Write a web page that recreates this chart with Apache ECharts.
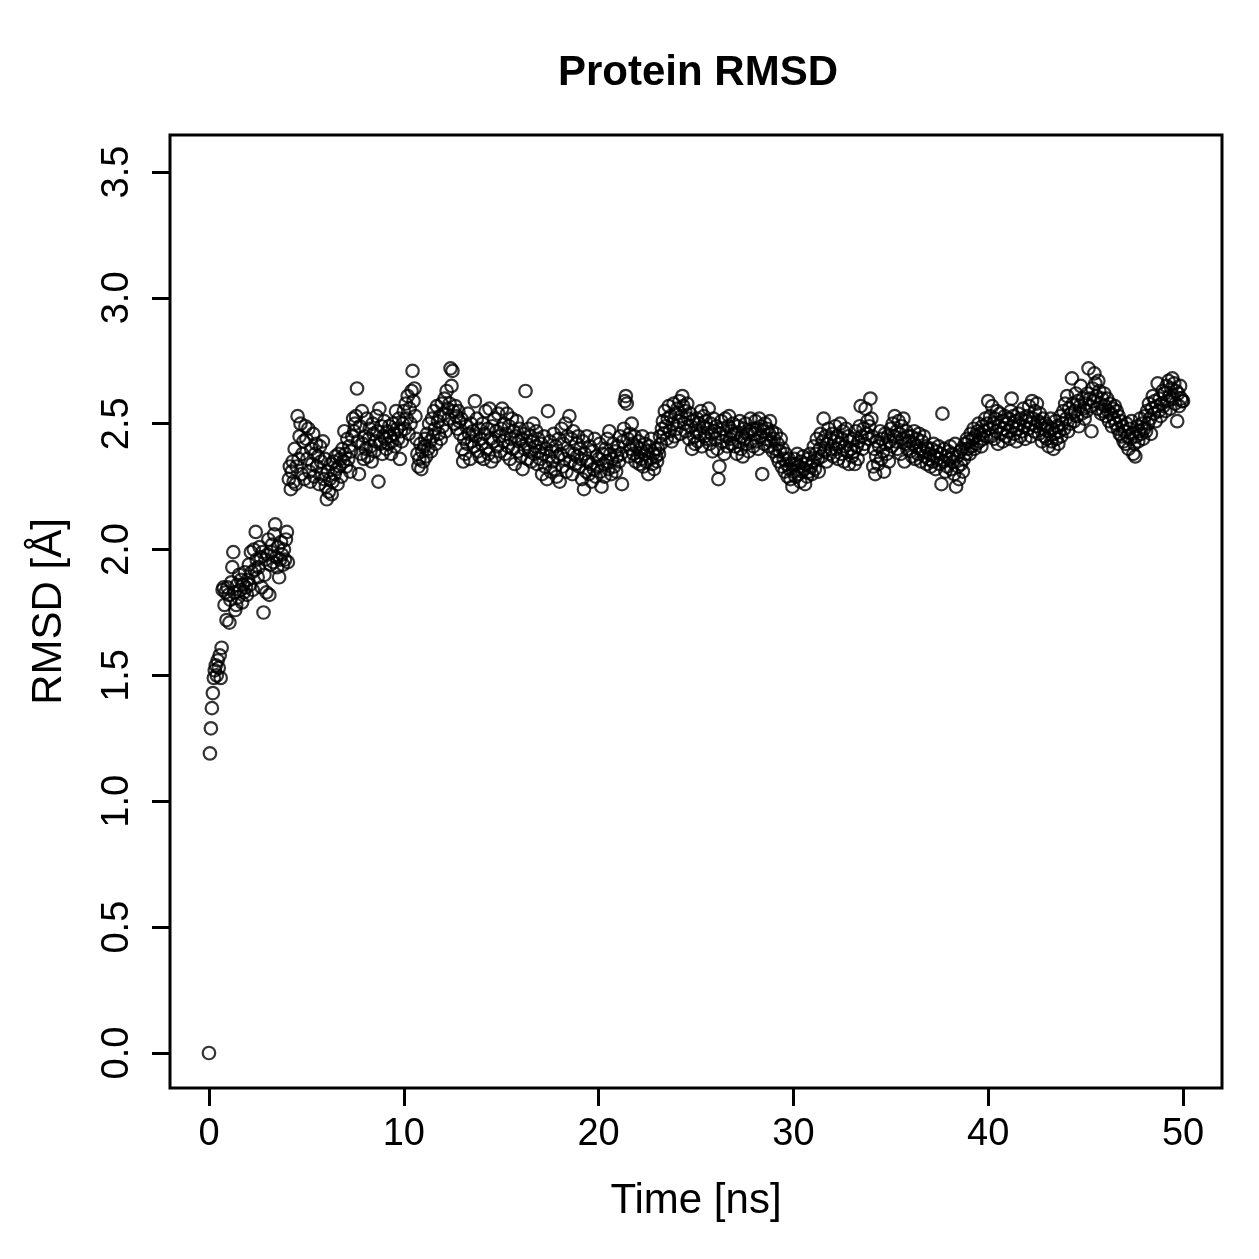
<!DOCTYPE html>
<html>
<head>
<meta charset="utf-8">
<title>Protein RMSD</title>
<script src="https://cdn.jsdelivr.net/npm/echarts@6/dist/echarts.min.js"></script>
<style>
  html, body { margin: 0; padding: 0; background: #fff; }
  #chart { width: 1259px; height: 1259px; }
</style>
</head>
<body>
<div id="chart"></div>
<script>
// time step between frames (ns), one value per frame
const timeStep = 0.05;
const xTicks = [0, 10, 20, 30, 40, 50];
const yTicks = [0, 0.5, 1, 1.5, 2, 2.5, 3, 3.5];

// RMSD values [Å], 20 per ns
const rmsd = [
  0.00, 1.19, 1.29, 1.37, 1.43, 1.49, 1.52, 1.54, 1.50, 1.56, 1.53, 1.58, 1.49, 1.61, 1.84, 1.85, 1.78, 1.83, 1.72, 1.85,
  1.82, 1.71, 1.80, 1.87, 1.93, 1.99, 1.83, 1.76, 1.78, 1.86, 1.81, 1.90, 1.84, 1.88, 1.79, 1.86, 1.83, 1.91, 1.85, 1.82,
  1.88, 1.94, 1.86, 1.99, 1.91, 1.84, 2.00, 1.92, 2.07, 1.96, 1.89, 1.93, 2.01, 1.97, 1.85, 1.99, 1.75, 1.90, 1.96, 1.83,
  1.98, 2.04, 1.82, 1.94, 1.99, 2.02, 1.95, 2.06, 2.10, 1.97, 1.93, 2.01, 1.89, 1.96, 2.03, 1.98, 1.94, 2.00, 1.96, 2.04,
  2.07, 1.95, 2.28, 2.33, 2.24, 2.31, 2.35, 2.27, 2.40, 2.26, 2.33, 2.53, 2.36, 2.45, 2.50, 2.30, 2.38, 2.43, 2.28, 2.49,
  2.44, 2.36, 2.48, 2.31, 2.27, 2.40, 2.34, 2.46, 2.29, 2.38, 2.42, 2.33, 2.37, 2.26, 2.41, 2.35, 2.30, 2.43, 2.28, 2.36,
  2.25, 2.20, 2.31, 2.23, 2.28, 2.34, 2.22, 2.27, 2.35, 2.30, 2.37, 2.32, 2.26, 2.38, 2.33, 2.36, 2.29, 2.40, 2.35, 2.47,
  2.38, 2.33, 2.44, 2.36, 2.41, 2.31, 2.39, 2.45, 2.52, 2.47, 2.50, 2.53, 2.64, 2.43, 2.30, 2.49, 2.38, 2.55, 2.42, 2.36,
  2.45, 2.40, 2.52, 2.37, 2.44, 2.48, 2.41, 2.35, 2.50, 2.46, 2.39, 2.43, 2.53, 2.47, 2.27, 2.56, 2.42, 2.49, 2.38, 2.45,
  2.51, 2.44, 2.40, 2.47, 2.42, 2.49, 2.45, 2.38, 2.43, 2.50, 2.46, 2.41, 2.55, 2.48, 2.44, 2.52, 2.36, 2.47, 2.43, 2.50,
  2.55, 2.48, 2.58, 2.52, 2.61, 2.46, 2.56, 2.50, 2.63, 2.71, 2.59, 2.64, 2.53, 2.44, 2.38, 2.33, 2.36, 2.42, 2.32, 2.39,
  2.35, 2.41, 2.44, 2.37, 2.46, 2.40, 2.50, 2.43, 2.39, 2.52, 2.45, 2.55, 2.48, 2.42, 2.57, 2.51, 2.46, 2.53, 2.44, 2.58,
  2.49, 2.54, 2.60, 2.47, 2.63, 2.56, 2.52, 2.58, 2.72, 2.65, 2.71, 2.55, 2.50, 2.57, 2.53, 2.48, 2.55, 2.51, 2.46, 2.52,
  2.40, 2.35, 2.44, 2.38, 2.49, 2.42, 2.54, 2.46, 2.36, 2.50, 2.43, 2.47, 2.41, 2.59, 2.45, 2.52, 2.39, 2.48, 2.37, 2.44,
  2.42, 2.50, 2.36, 2.46, 2.55, 2.40, 2.48, 2.38, 2.56, 2.44, 2.35, 2.49, 2.43, 2.52, 2.37, 2.47, 2.41, 2.54, 2.45, 2.39,
  2.48, 2.56, 2.43, 2.50, 2.38, 2.46, 2.54, 2.41, 2.49, 2.36, 2.44, 2.52, 2.40, 2.47, 2.34, 2.45, 2.51, 2.39, 2.43, 2.48,
  2.37, 2.44, 2.32, 2.46, 2.40, 2.63, 2.42, 2.36, 2.48, 2.39, 2.45, 2.35, 2.43, 2.50, 2.38, 2.41, 2.47, 2.34, 2.44, 2.39,
  2.36, 2.42, 2.30, 2.38, 2.45, 2.33, 2.40, 2.28, 2.55, 2.37, 2.43, 2.31, 2.39, 2.35, 2.46, 2.32, 2.41, 2.29, 2.37, 2.44,
  2.27, 2.38, 2.48, 2.33, 2.42, 2.36, 2.50, 2.31, 2.45, 2.39, 2.53, 2.35, 2.44, 2.30, 2.47, 2.38, 2.34, 2.42, 2.37, 2.45,
  2.33, 2.40, 2.36, 2.28, 2.43, 2.24, 2.38, 2.31, 2.45, 2.35, 2.30, 2.41, 2.34, 2.27, 2.39, 2.32, 2.44, 2.29, 2.37, 2.33,
  2.36, 2.42, 2.31, 2.25, 2.38, 2.34, 2.29, 2.40, 2.35, 2.44, 2.32, 2.47, 2.38, 2.30, 2.36, 2.42, 2.33, 2.39, 2.31, 2.37,
  2.41, 2.35, 2.45, 2.38, 2.26, 2.43, 2.48, 2.59, 2.61, 2.58, 2.44, 2.37, 2.46, 2.40, 2.50, 2.42, 2.38, 2.45, 2.35, 2.41,
  2.37, 2.43, 2.34, 2.40, 2.36, 2.45, 2.33, 2.38, 2.42, 2.35, 2.39, 2.30, 2.41, 2.36, 2.44, 2.34, 2.38, 2.32, 2.40, 2.37,
  2.35, 2.40, 2.38, 2.45, 2.42, 2.48, 2.51, 2.46, 2.55, 2.49, 2.44, 2.52, 2.57, 2.47, 2.53, 2.43, 2.50, 2.58, 2.45, 2.54,
  2.48, 2.56, 2.51, 2.59, 2.46, 2.53, 2.61, 2.57, 2.50, 2.55, 2.47, 2.58, 2.52, 2.44, 2.54, 2.49, 2.40, 2.51, 2.45, 2.42,
  2.47, 2.52, 2.43, 2.50, 2.46, 2.55, 2.41, 2.49, 2.53, 2.45, 2.51, 2.44, 2.48, 2.56, 2.42, 2.50, 2.46, 2.39, 2.52, 2.47,
  2.44, 2.49, 2.40, 2.28, 2.33, 2.46, 2.51, 2.43, 2.48, 2.38, 2.52, 2.45, 2.41, 2.49, 2.53, 2.44, 2.47, 2.42, 2.50, 2.46,
  2.41, 2.46, 2.38, 2.49, 2.43, 2.51, 2.40, 2.45, 2.37, 2.48, 2.44, 2.50, 2.42, 2.46, 2.39, 2.47, 2.52, 2.43, 2.48, 2.41,
  2.46, 2.51, 2.43, 2.48, 2.40, 2.52, 2.45, 2.49, 2.30, 2.47, 2.42, 2.50, 2.44, 2.48, 2.41, 2.46, 2.51, 2.43, 2.47, 2.39,
  2.44, 2.40, 2.46, 2.37, 2.42, 2.35, 2.39, 2.44, 2.33, 2.40, 2.36, 2.31, 2.38, 2.34, 2.29, 2.36, 2.32, 2.28, 2.34, 2.25,
  2.31, 2.36, 2.29, 2.34, 2.38, 2.30, 2.33, 2.27, 2.35, 2.31, 2.37, 2.32, 2.26, 2.34, 2.29, 2.36, 2.31, 2.38, 2.33, 2.30,
  2.35, 2.41, 2.32, 2.38, 2.44, 2.36, 2.31, 2.40, 2.46, 2.37, 2.43, 2.52, 2.39, 2.45, 2.35, 2.42, 2.48, 2.38, 2.44, 2.40,
  2.46, 2.37, 2.43, 2.49, 2.40, 2.45, 2.36, 2.42, 2.50, 2.38, 2.44, 2.47, 2.35, 2.41, 2.48, 2.39, 2.45, 2.34, 2.43, 2.40,
  2.37, 2.44, 2.39, 2.34, 2.47, 2.41, 2.36, 2.43, 2.49, 2.57, 2.45, 2.40, 2.48, 2.42, 2.56, 2.46, 2.51, 2.44, 2.49, 2.60,
  2.52, 2.45, 2.33, 2.40, 2.30, 2.37, 2.43, 2.34, 2.41, 2.47, 2.36, 2.44, 2.39, 2.31, 2.46, 2.42, 2.38, 2.45, 2.35, 2.43,
  2.48, 2.41, 2.50, 2.45, 2.53, 2.43, 2.47, 2.40, 2.51, 2.46, 2.38, 2.49, 2.44, 2.52, 2.35, 2.42, 2.47, 2.40, 2.45, 2.43,
  2.39, 2.45, 2.37, 2.42, 2.47, 2.36, 2.41, 2.44, 2.38, 2.46, 2.40, 2.35, 2.43, 2.39, 2.45, 2.37, 2.41, 2.34, 2.40, 2.36,
  2.38, 2.33, 2.40, 2.35, 2.42, 2.37, 2.32, 2.39, 2.36, 2.41, 2.34, 2.38, 2.26, 2.54, 2.35, 2.40, 2.31, 2.37, 2.33, 2.39,
  2.36, 2.41, 2.32, 2.38, 2.35, 2.30, 2.42, 2.25, 2.37, 2.33, 2.28, 2.39, 2.34, 2.40, 2.31, 2.36, 2.42, 2.38, 2.44, 2.40,
  2.43, 2.38, 2.46, 2.41, 2.44, 2.48, 2.40, 2.45, 2.42, 2.47, 2.50, 2.43, 2.46, 2.41, 2.49, 2.44, 2.47, 2.52, 2.45, 2.50,
  2.59, 2.48, 2.53, 2.45, 2.57, 2.50, 2.44, 2.52, 2.47, 2.55, 2.42, 2.49, 2.54, 2.46, 2.51, 2.43, 2.48, 2.53, 2.45, 2.50,
  2.47, 2.52, 2.44, 2.55, 2.60, 2.49, 2.53, 2.46, 2.51, 2.43, 2.48, 2.54, 2.50, 2.45, 2.52, 2.47, 2.56, 2.49, 2.44, 2.51,
  2.53, 2.48, 2.57, 2.50, 2.45, 2.59, 2.52, 2.47, 2.55, 2.49, 2.58, 2.51, 2.46, 2.54, 2.50, 2.43, 2.52, 2.48, 2.45, 2.50,
  2.44, 2.49, 2.41, 2.47, 2.52, 2.43, 2.48, 2.40, 2.46, 2.51, 2.44, 2.49, 2.42, 2.47, 2.53, 2.45, 2.50, 2.55, 2.48, 2.58,
  2.52, 2.61, 2.47, 2.56, 2.50, 2.54, 2.68, 2.58, 2.51, 2.55, 2.62, 2.53, 2.59, 2.49, 2.57, 2.65, 2.54, 2.60, 2.56, 2.52,
  2.58, 2.55, 2.62, 2.72, 2.60, 2.57, 2.47, 2.64, 2.59, 2.70, 2.66, 2.61, 2.56, 2.67, 2.63, 2.58, 2.54, 2.60, 2.55, 2.62,
  2.57, 2.53, 2.60, 2.55, 2.51, 2.58, 2.54, 2.49, 2.56, 2.52, 2.57, 2.50, 2.55, 2.48, 2.53, 2.46, 2.51, 2.45, 2.49, 2.43,
  2.47, 2.42, 2.50, 2.45, 2.40, 2.48, 2.44, 2.51, 2.46, 2.38, 2.42, 2.37, 2.45, 2.49, 2.43, 2.47, 2.52, 2.46, 2.50, 2.44,
  2.48, 2.53, 2.47, 2.55, 2.50, 2.58, 2.52, 2.46, 2.56, 2.61, 2.54, 2.59, 2.51, 2.57, 2.66, 2.55, 2.60, 2.53, 2.58, 2.63,
  2.57, 2.62, 2.55, 2.65, 2.59, 2.67, 2.61, 2.56, 2.64, 2.68, 2.60, 2.66, 2.58, 2.63, 2.51, 2.62, 2.57, 2.65, 2.60, 2.59,
  2.59
];

const FONT = "'Liberation Sans', Arial, Helvetica, sans-serif";

let chart = echarts.init(document.getElementById('chart'));

// [time, rmsd] pairs for the scatter
let points = rmsd.map((v, i) => [+(i * timeStep).toFixed(2), v]);

chart.setOption({
  animation: false,
  backgroundColor: '#fff',
  title: {
    text: 'Protein RMSD',
    left: 693,
    top: 47,
    textAlign: 'center',
    textStyle: { fontFamily: FONT, fontSize: 42, fontWeight: 'bold', color: '#000' }
  },
  grid: {
    left: 170, top: 135, width: 1052, height: 953,
    show: true, borderColor: '#000', borderWidth: 3, backgroundColor: 'transparent'
  },
  xAxis: {
    type: 'value',
    min: -2, max: 52,
    name: 'Time [ns]',
    nameLocation: 'middle',
    nameGap: 92,
    nameTextStyle: { fontFamily: FONT, fontSize: 42, color: '#000', verticalAlign: 'top' },
    axisLine: { show: false, onZero: false },
    splitLine: { show: false },
    axisTick: {
      show: true, inside: false, length: 18,
      customValues: xTicks,
      lineStyle: { color: '#000', width: 3 }
    },
    axisLabel: {
      customValues: xTicks,
      margin: 28,
      fontFamily: FONT, fontSize: 38, color: '#000'
    }
  },
  yAxis: {
    type: 'value',
    min: -0.139, max: 3.647,
    name: 'RMSD [Å]',
    nameLocation: 'middle',
    nameGap: 100,
    nameTextStyle: { fontFamily: FONT, fontSize: 42, color: '#000' },
    axisLine: { show: false, onZero: false },
    splitLine: { show: false },
    axisTick: {
      show: true, inside: false, length: 18,
      customValues: yTicks,
      lineStyle: { color: '#000', width: 3 }
    },
    axisLabel: {
      customValues: yTicks,
      rotate: 90,
      margin: 33,
      fontFamily: FONT, fontSize: 38, color: '#000',
      formatter: v => v.toFixed(1)
    }
  },
  series: [{
    type: 'scatter',
    data: points,
    symbol: 'circle',
    symbolSize: 12.5,
    itemStyle: { color: 'transparent', borderColor: '#000', borderWidth: 2.2 },
    emphasis: { disabled: true }
  }]
});
</script>
</body>
</html>
